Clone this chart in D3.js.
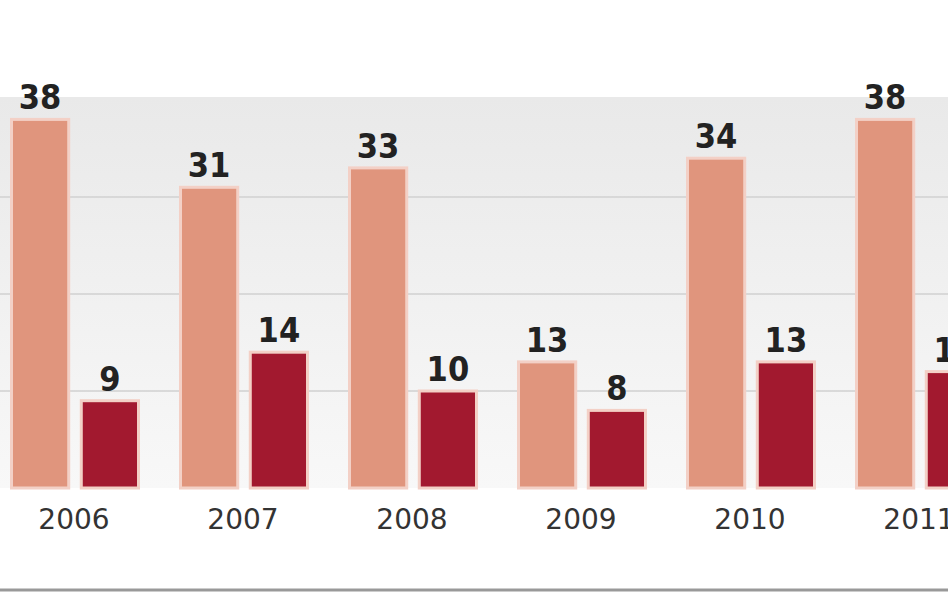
<!DOCTYPE html>
<html>
<head>
<meta charset="utf-8">
<script src="https://cdn.jsdelivr.net/npm/d3@7"></script>
<style>
body{margin:0;background:#fff;overflow:hidden;}
</style>
</head>
<body>
<script>
const years = ["2006","2007","2008","2009","2010","2011"];
const lightVals = [38, 31, 33, 13, 34, 38];
const darkVals = [9, 14, 10, 8, 13, 12];
const gridTicks = [10, 20, 30];

const W = 948, H = 593;
const svg = d3.select("body").append("svg").attr("width", W).attr("height", H);

const defs = svg.append("defs");
const grad = defs.append("linearGradient").attr("id","bg").attr("x1",0).attr("x2",0).attr("y1",0).attr("y2",1);
grad.append("stop").attr("offset","0%").attr("stop-color","#e9e9e9");
grad.append("stop").attr("offset","100%").attr("stop-color","#f8f8f8");

const y = d3.scaleLinear().domain([0, 40]).range([488, 100]);
const x = d3.scaleBand().domain(years).range([-8.5, -8.5 + 169 * years.length]);
const inner = d3.scaleBand().domain([0, 1]).range([20, 147]).paddingInner(0.18);

svg.append("rect").attr("x",0).attr("y",y(40) - 3).attr("width",W).attr("height",y(0) - y(40) + 3).attr("fill","url(#bg)");

svg.append("g").selectAll("line").data(gridTicks).enter().append("line")
  .attr("x1",0).attr("x2",W).attr("y1",d => y(d)).attr("y2",d => y(d))
  .attr("stroke","#d0d0d0").attr("stroke-width",1.5);

const groups = svg.append("g").selectAll("g").data(years).enter().append("g")
  .attr("transform", d => `translate(${x(d)},0)`);

const colors = ["#e0957d", "#a2192f"];
[lightVals, darkVals].forEach((vals, s) => {
  groups.append("rect")
    .attr("x", inner(s))
    .attr("width", inner.bandwidth())
    .attr("y", (d, i) => y(vals[i]))
    .attr("height", (d, i) => y(0) - y(vals[i]))
    .attr("fill", colors[s])
    .attr("stroke", "#f3d0c6").attr("stroke-width", 3);
  groups.append("text")
    .attr("x", inner(s) + inner.bandwidth() / 2)
    .attr("y", (d, i) => y(vals[i]) - 10)
    .attr("text-anchor", "middle")
    .attr("font-family", "DejaVu Sans Condensed, DejaVu Sans")
    .attr("font-weight", "bold").attr("font-size", 34).attr("fill", "#222")
    .text((d, i) => vals[i]);
});

svg.append("g").selectAll("text").data(years).enter().append("text")
  .attr("x", d => x(d) + x.bandwidth() / 2 - 2)
  .attr("y", 529)
  .attr("text-anchor", "middle")
  .attr("font-family", "DejaVu Sans, sans-serif")
  .attr("font-size", 28).attr("fill", "#333")
  .text(d => d);

svg.append("line").attr("x1",0).attr("x2",W).attr("y1",590).attr("y2",590)
  .attr("stroke","#999").attr("stroke-width",3);
</script>
</body>
</html>
